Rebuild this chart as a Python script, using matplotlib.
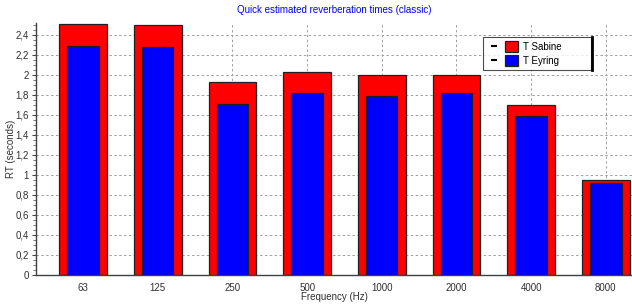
import numpy as np
import matplotlib.pyplot as plt
from matplotlib.ticker import MultipleLocator, FuncFormatter
from matplotlib.lines import Line2D
from matplotlib.patches import Patch
from matplotlib.legend_handler import HandlerTuple

# octave band centres and estimated reverberation times (s)
freqs = ['63', '125', '250', '500', '1000', '2000', '4000', '8000']
t_sabine = [2.51, 2.50, 1.93, 2.03, 2.00, 2.00, 1.70, 0.95]
t_eyring = [2.29, 2.28, 1.71, 1.82, 1.79, 1.82, 1.59, 0.92]


def comma_fmt(v, pos):
    return '{:g}'.format(round(v, 2)).replace('.', ',')


def main():
    plt.rcParams['font.family'] = ['Liberation Sans', 'DejaVu Sans']
    fig = plt.figure(figsize=(6.32, 3.05), dpi=100)
    ax = fig.add_axes([36 / 632, 30 / 305, 596 / 632, 252 / 305])

    x = np.arange(len(freqs))
    ax.bar(x, t_sabine, width=0.64, color='#ff0000', edgecolor='#202020',
           linewidth=0.9, zorder=2)
    ax.bar(x, t_eyring, width=0.42, color='#0000ff', edgecolor='#202020',
           linewidth=0.9, zorder=3)

    ax.set_xlim(-0.63, 7.35)
    ax.set_ylim(0, max(t_sabine) + 0.01)
    ax.set_xticks(x)
    ax.set_xticklabels(freqs)
    ax.yaxis.set_major_locator(MultipleLocator(0.2))
    ax.yaxis.set_minor_locator(MultipleLocator(0.05))
    ax.yaxis.set_major_formatter(FuncFormatter(comma_fmt))

    ax.grid(True, which='major', color='#a0a0a0', linestyle=(0, (2.5, 2.5)),
            linewidth=0.7, zorder=0)
    ax.set_axisbelow(True)

    for s in ['top', 'right']:
        ax.spines[s].set_visible(False)
    for s in ['left', 'bottom']:
        ax.spines[s].set_color('#404040')
        ax.spines[s].set_linewidth(1.0)

    ax.tick_params(axis='both', labelsize=7, colors='#404040',
                   labelcolor='#303030')
    ax.tick_params(axis='y', which='major', length=3, pad=2)
    ax.tick_params(axis='y', which='minor', length=2, color='#606060')
    ax.tick_params(axis='x', length=0, pad=6)

    ax.set_xlabel('Frequency (Hz)', fontsize=7, color='#303030', va='center')
    ax.set_ylabel('RT (seconds)', fontsize=7, color='#303030', va='center')
    ax.xaxis.set_label_coords(0.5, -22 / 252)
    ax.yaxis.set_label_coords(-25 / 596, 0.5)
    ax.set_title('Quick estimated reverberation times (classic)',
                 fontsize=7, color='#0000ff', pad=7)

    dash = Line2D([], [], color='black', marker='_', linestyle='none',
                  markersize=5, markeredgewidth=1.5)
    red = Patch(facecolor='#ff0000', edgecolor='#202020', linewidth=0.9)
    blue = Patch(facecolor='#0000ff', edgecolor='#202020', linewidth=0.9)
    leg = ax.legend([(dash, red), (dash, blue)], ['T Sabine', 'T Eyring'],
                    handler_map={tuple: HandlerTuple(ndivide=None, pad=0.5)},
                    loc='upper left',
                    bbox_to_anchor=(0.75, 0.944 - 0.13, 108 / 596, 0.13),
                    mode='expand',
                    fontsize=7, frameon=True, fancybox=False,
                    edgecolor='#202020', borderpad=0.45, handlelength=3.2,
                    handleheight=1.3, labelspacing=0.35, handletextpad=0.5,
                    borderaxespad=0)
    leg.get_frame().set_linewidth(0.8)
    leg.set_zorder(5)
    fig.canvas.draw()
    bb = leg.get_window_extent().transformed(ax.transAxes.inverted())
    ax.plot([bb.x1 + 0.002, bb.x1 + 0.002], [bb.y0, bb.y1], color='black',
            linewidth=2, transform=ax.transAxes, zorder=6, clip_on=False)

    plt.savefig('out.png', dpi=100)


main()
